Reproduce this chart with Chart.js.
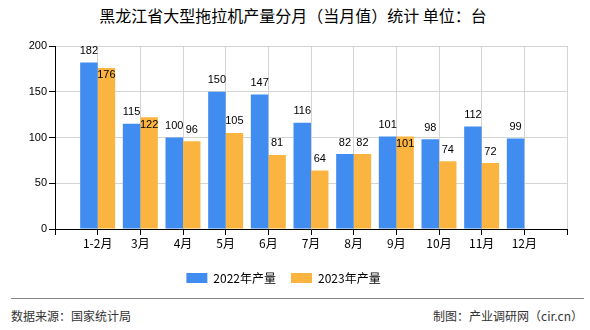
<!DOCTYPE html>
<html>
<head>
<meta charset="utf-8">
<script src="https://cdn.jsdelivr.net/npm/chart.js@4.4.0/dist/chart.umd.min.js"></script>
<style>
  body { margin: 0; width: 590px; height: 330px; background: #fff; position: relative; overflow: hidden; font-family: "Noto Sans CJK SC", sans-serif; }
  #title { position: absolute; left: 0; top: 3px; width: 586px; text-align: center; font-size: 16px; color: #000; }
  #wrap { position: absolute; left: 0; top: 0; width: 590px; height: 294px; }
  #line { position: absolute; left: 11px; top: 298px; width: 573px; height: 1px; background: #888; }
  .foot { position: absolute; top: 307px; font-size: 12px; color: #333; }
</style>
</head>
<body>
<div id="title">黑龙江省大型拖拉机产量分月（当月值）统计 单位：台</div>
<div id="wrap"><canvas id="chart"></canvas></div>
<div id="line"></div>
<div class="foot" style="left:11px">数据来源：国家统计局</div>
<div class="foot" style="right:7px">制图：产业调研网（cir.cn）</div>
<script>
const months = ['', '1-2月', '3月', '4月', '5月', '6月', '7月', '8月', '9月', '10月', '11月', '12月', ''];
const output2022 = [null, 182, 115, 100, 150, 147, 116, 82, 101, 98, 112, 99, null];
const output2023 = [null, 176, 122, 96, 105, 81, 64, 82, 101, 74, 72, null, null];
const yTicks = [0, 50, 100, 150, 200];

const labelFont = '11px "Liberation Sans", Arial, sans-serif';

// value labels above bars; orange label goes inside when it would hit the blue one
const barLabels = {
  id: 'barLabels',
  afterDatasetsDraw(chart) {
    const ctx = chart.ctx;
    ctx.save();
    ctx.font = labelFont;
    ctx.fillStyle = '#000';
    ctx.textAlign = 'center';
    const m0 = chart.getDatasetMeta(0);
    chart.data.datasets.forEach((ds, di) => {
      const meta = chart.getDatasetMeta(di);
      meta.data.forEach((bar, i) => {
        const v = ds.data[i];
        if (v == null) return;
        const txt = String(v);
        let inside = false;
        if (di === 1 && output2022[i] != null) {
          const other = m0.data[i];
          const w1 = ctx.measureText(txt).width;
          const w0 = ctx.measureText(String(output2022[i])).width;
          const hOverlap = (w0 + w1) / 2 > (bar.x - other.x);
          const vOverlap = Math.abs(bar.y - other.y) < 12;
          inside = hOverlap && vOverlap;
        }
        if (inside) {
          ctx.textBaseline = 'top';
          ctx.fillText(txt, bar.x, bar.y + 2);
        } else {
          ctx.textBaseline = 'bottom';
          ctx.fillText(txt, bar.x, bar.y - 6);
        }
      });
    });
    ctx.restore();
  }
};

new Chart(document.getElementById('chart'), {
  type: 'bar',
  data: {
    labels: months,
    datasets: [
      {
        label: '2022年产量',
        data: output2022,
        backgroundColor: '#418CF0',
        borderWidth: 0,
        barPercentage: 1,
        categoryPercentage: 0.82,
      },
      {
        label: '2023年产量',
        data: output2023,
        backgroundColor: '#FCB441',
        borderWidth: 0,
        barPercentage: 1,
        categoryPercentage: 0.82,
      },
    ],
  },
  plugins: [barLabels],
  options: {
    responsive: true,
    maintainAspectRatio: false,
    animation: false,
    layout: { padding: { left: 0, right: 23, top: 46, bottom: 0 } },
    plugins: {
      legend: {
        position: 'bottom',
        labels: {
          boxWidth: 21,
          boxHeight: 10,
          padding: 15,
          color: '#000',
          font: { family: '"Noto Sans CJK SC", sans-serif', size: 12 },
        },
      },
      tooltip: { enabled: false },
    },
    scales: {
      x: {
        offset: false,
        grid: { offset: false, color: '#d4d4d4', tickColor: '#000', tickLength: 6 },
        border: { color: '#000', width: 1 },
        ticks: {
          autoSkip: false,
          maxRotation: 0,
          padding: 1,
          color: '#000',
          font: { family: '"Noto Sans CJK SC", sans-serif', size: 12 },
        },
        afterFit(scale) { scale.height = 28; },
      },
      y: {
        min: 0,
        max: 200,
        grid: { color: '#d4d4d4', tickColor: '#000', tickLength: 6 },
        border: { color: '#000', width: 1 },
        afterBuildTicks(scale) { scale.ticks = yTicks.map(v => ({ value: v })); },
        ticks: {
          padding: 2,
          color: '#000',
          font: { family: '"Liberation Sans", Arial, sans-serif', size: 11 },
        },
        afterFit(scale) { scale.width = 55; },
      },
    },
  },
});
</script>
</body>
</html>
